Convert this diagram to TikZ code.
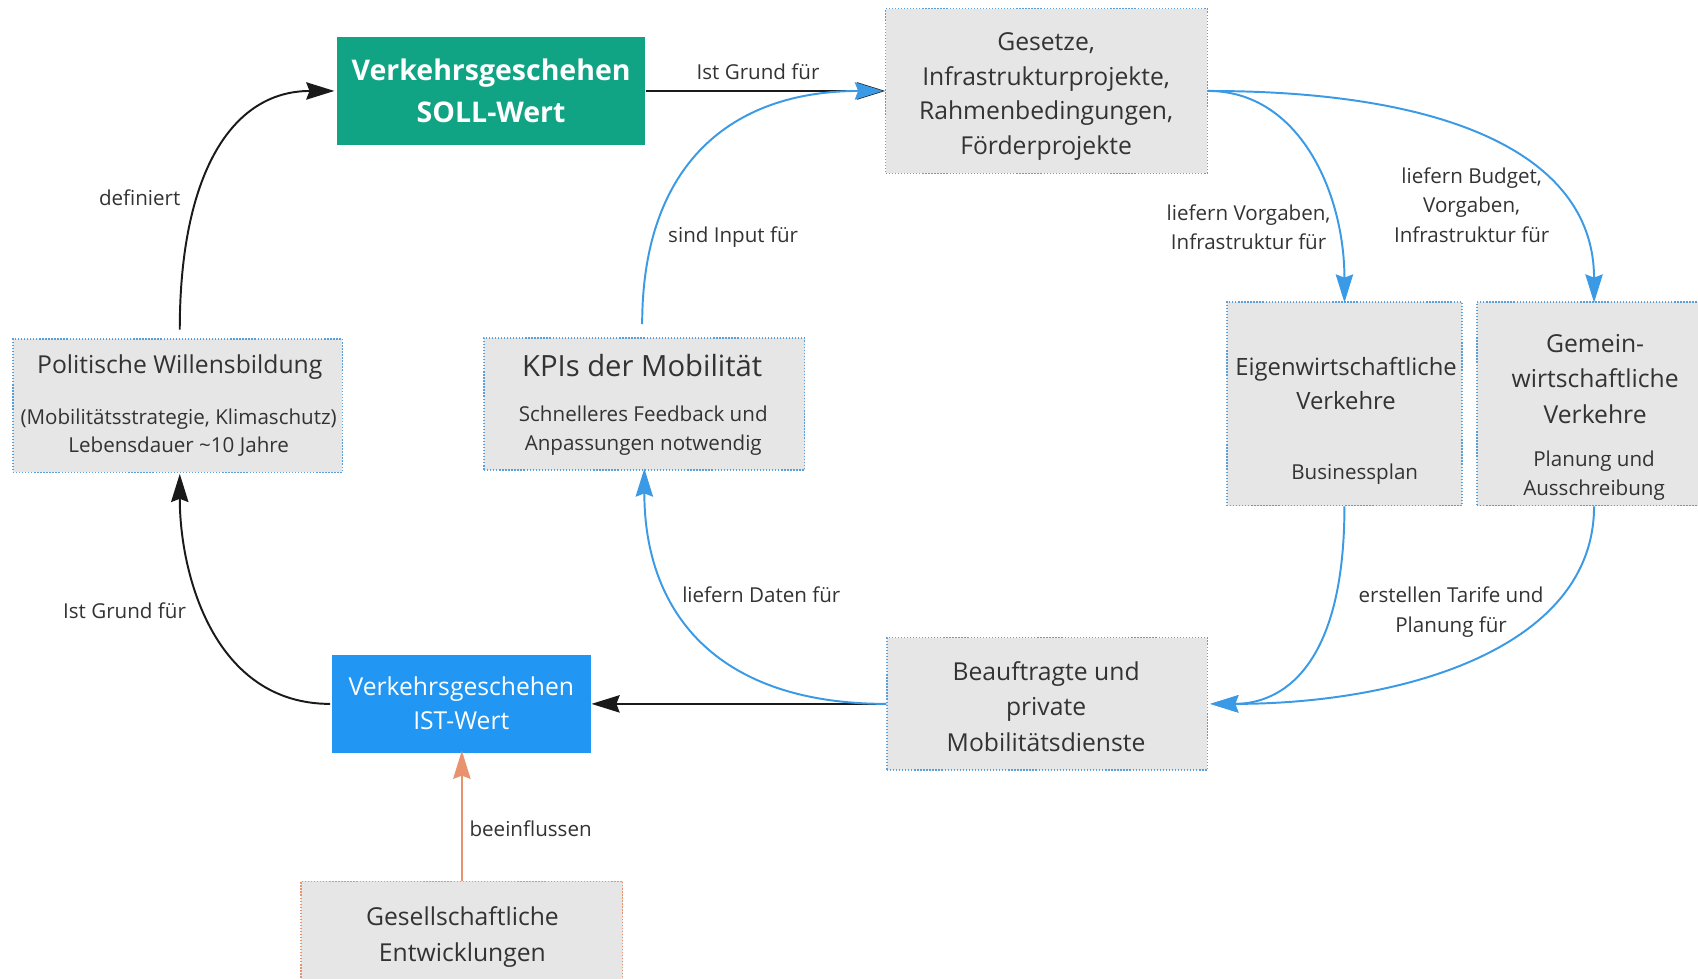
\documentclass[tikz,border=0pt]{standalone}
\usepackage{fontspec}
\setmainfont{Open Sans}
\usetikzlibrary{arrows.meta}

\definecolor{sollgreen}{HTML}{10A384}
\definecolor{istblue}{HTML}{2196F3}
\definecolor{flowblue}{HTML}{3A9AE6}
\definecolor{boxgray}{HTML}{E6E6E6}
\definecolor{dotblue}{HTML}{5A9FD8}
\definecolor{dotorange}{HTML}{E9926E}
\definecolor{inkgray}{HTML}{333333}
\definecolor{inkblack}{HTML}{1A1A1A}

\tikzset{
  graybox/.style={rectangle, fill=boxgray, draw=dotblue, line width=1.2pt,
    dash pattern=on 1.2pt off 1.6pt, inner sep=0pt},
  orangebox/.style={graybox, draw=dotorange},
  mainfont/.style={text=inkgray, align=center, inner sep=0pt,
    font=\fontsize{22.8}{32}\selectfont},
  subfont/.style={text=inkgray, align=center, inner sep=0pt,
    font=\fontsize{19}{26.5}\selectfont},
  tip/.style={-{Stealth[length=26pt, width=16pt, inset=3pt]}},
  blackflow/.style={tip, draw=inkblack, line width=1.8pt},
  blueflow/.style={tip, draw=flowblue, line width=1.8pt},
  orangeflow/.style={tip, draw=dotorange, line width=1.8pt},
}

\begin{document}
\begin{tikzpicture}[x=1pt, y=-1pt]
  \clip (0,0) rectangle (1568,904);
  \fill[white] (0,0) rectangle (1568,904);

  % boxes
  \node[rectangle, fill=sollgreen, minimum width=285pt, minimum height=100pt, inner sep=0pt] (soll) at (453.5,84) {};
  \node[graybox, minimum width=297pt, minimum height=152pt] (ges) at (966.5,84) {};
  \node[graybox, minimum width=304pt, minimum height=123pt] (pol) at (164,374.5) {};
  \node[graybox, minimum width=296pt, minimum height=122pt] (kpi) at (595,373) {};
  \node[graybox, minimum width=217pt, minimum height=188pt] (eigen) at (1241.5,373) {};
  \node[graybox, minimum width=216pt, minimum height=188pt] (gemein) at (1472,373) {};
  \node[graybox, minimum width=296pt, minimum height=122pt] (beau) at (967,650) {};
  \node[rectangle, fill=istblue, minimum width=239pt, minimum height=90pt, inner sep=0pt] (ist) at (426.5,650) {};
  \node[orangebox, minimum width=297pt, minimum height=122pt] (gesell) at (426.5,875) {};

  % box texts
  \node[align=center, inner sep=0pt, text=white,
        font=\fontsize{26.3}{39}\selectfont\bfseries] (sollT) at (453.5,84)
        {Verkehrsgeschehen\\SOLL-Wert};
  \node[mainfont] (gesT) at (966,89)
        {Gesetze,\\Infrastrukturprojekte,\\Rahmenbedingungen,\\Förderprojekte};
  \node[mainfont] (polT) at (166,339) {Politische Willensbildung};
  \node[subfont] (polS) at (165,399.5)
        {(Mobilitätsstrategie, Klimaschutz)\\Lebensdauer \textasciitilde10 Jahre};
  \node[mainfont, font=\fontsize{27}{32}\selectfont] (kpiT) at (593,338) {KPIs der Mobilität};
  \node[subfont] (kpiS) at (594,398)
        {Schnelleres Feedback und\\Anpassungen notwendig};
  \node[mainfont, font=\fontsize{22}{32}\selectfont] (eigenT) at (1243,354)
        {Eigenwirtschaftliche\\Verkehre};
  \node[subfont] (eigenS) at (1251,438) {Businessplan};
  \node[mainfont, font=\fontsize{22.8}{32.5}\selectfont] (gemeinT) at (1473,350)
        {Gemein-\\wirtschaftliche\\Verkehre};
  \node[subfont, font=\fontsize{19}{27}\selectfont] (gemeinS) at (1472,439.5)
        {Planung und\\Ausschreibung};
  \node[mainfont, font=\fontsize{22.8}{32.5}\selectfont] (beauT) at (966,652.5)
        {Beauftragte und\\private\\Mobilitätsdienste};
  \node[mainfont, text=white, font=\fontsize{22.8}{31}\selectfont] (istT) at (426,649.5)
        {Verkehrsgeschehen\\IST-Wert};
  \node[mainfont, font=\fontsize{22.8}{33}\selectfont] (gesellT) at (427,865.5)
        {Gesellschaftliche\\Entwicklungen};

  % black connectors
  \draw[blackflow] (soll.east) -- (ges.west);
  \draw[blackflow] (beau.west) -- (ist.east);
  \draw[blackflow, shorten <=8pt] ([xshift=2pt]pol.north)
        .. controls +(0,-150) and +(-96,0) .. ([xshift=-2pt]soll.west);
  \draw[blackflow, shorten >=1pt] ([xshift=-2pt]ist.west)
        .. controls +(-107,0) and +(0,94) .. ([xshift=2pt]pol.south);

  % blue connectors
  \draw[blueflow] (beau.west)
        .. controls +(-160,0) and +(0,130) .. ([yshift=2pt]kpi.south);
  \draw[blueflow, shorten <=12pt] ([xshift=-2pt]kpi.north)
        .. controls +(0,-160) and +(-140,0) .. ([xshift=-2pt]ges.west);
  \draw[blueflow] (ges.east)
        .. controls +(85,0) and +(0,-100) .. ([yshift=-1pt]eigen.north);
  \draw[blueflow] (ges.east)
        .. controls +(235,0) and +(0,-130) .. ([yshift=-1pt]gemein.north);
  \draw[blueflow] (eigen.south)
        .. controls +(0,150) and +(65,0) .. ([xshift=2pt]beau.east);
  \draw[blueflow] (gemein.south)
        .. controls +(0,130) and +(180,0) .. ([xshift=2pt]beau.east);

  % orange connector
  \draw[orangeflow] (gesell.north) -- ([yshift=2pt]ist.south);

  % connector labels
  \node[subfont] (l1) at (700,66) {Ist Grund für};
  \node[subfont] (l2) at (129,183) {definiert};
  \node[subfont] (l3) at (115,564) {Ist Grund für};
  \node[subfont] (l4) at (677,219) {sind Input für};
  \node[subfont] (l5) at (703,549) {liefern Daten für};
  \node[subfont, font=\fontsize{19}{27}\selectfont] (l6) at (1153,209.5)
        {liefern Vorgaben,\\Infrastruktur für};
  \node[subfont, font=\fontsize{19}{27}\selectfont] (l7) at (1359,189.5)
        {liefern Budget,\\Vorgaben,\\Infrastruktur für};
  \node[subfont, font=\fontsize{19}{28}\selectfont] (l8) at (1340,565.5)
        {erstellen Tarife und\\Planung für};
  \node[subfont] (l9) at (490,765) {beeinflussen};
\end{tikzpicture}
\end{document}
